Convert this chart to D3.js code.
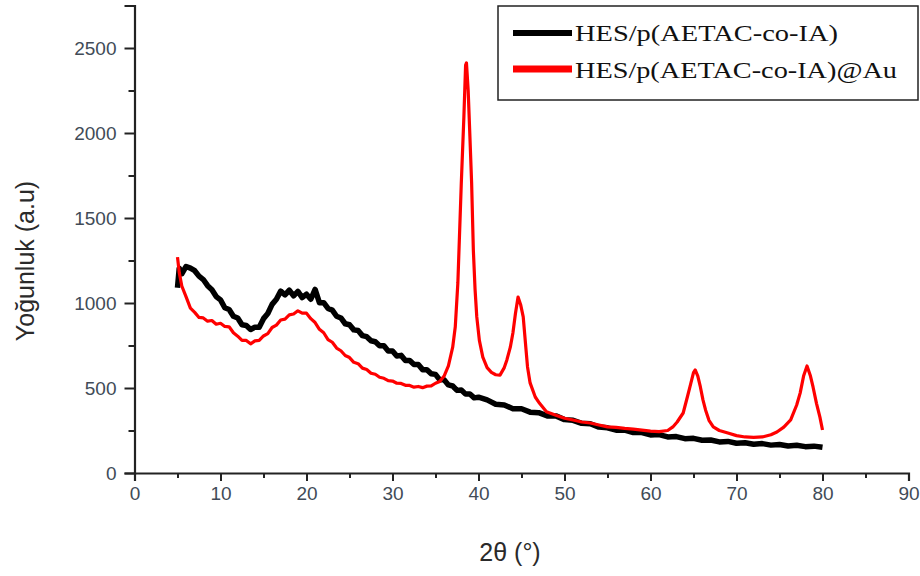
<!DOCTYPE html>
<html>
<head>
<meta charset="utf-8">
<script src="https://cdn.jsdelivr.net/npm/d3@7"></script>
<style>
    body { margin: 0; background: #fff; }
    .tick text { font-family: "Liberation Sans", Arial, sans-serif; font-size: 19px; fill: #414b57; }
</style>
</head>
<body>
<script>
// Series data (2θ in degrees, intensity in a.u.)
var blackAngle = [5.0, 5.2, 5.5, 6.0, 6.5, 7.0, 7.5, 8.0, 8.5, 9.0, 9.5, 10.0, 10.5, 11.0, 11.5, 12.0, 12.5, 13.0, 13.5, 14.0,
    14.5, 15.0, 15.5, 16.0, 16.5, 17.0, 17.5, 18.0, 18.5, 19.0, 19.5, 20.0, 20.5, 21.0, 21.5, 22.0, 22.5, 23.0, 23.5, 24.0,
    24.5, 25.0, 25.5, 26.0, 26.5, 27.0, 27.5, 28.0, 28.5, 29.0, 29.5, 30.0, 30.5, 31.0, 31.5, 32.0, 32.5, 33.0, 33.5, 34.0,
    34.5, 35.0, 35.5, 36.0, 36.5, 37.0, 37.5, 38.0, 38.5, 39.0, 39.5, 40.0, 41, 42, 43, 44, 45, 46, 47, 48,
    49, 50, 51, 52, 53, 54, 55, 56, 57, 58, 59, 60, 61, 62, 63, 64, 65, 66, 67, 68,
    69, 70, 71, 72, 73, 74, 75, 76, 77, 78, 79, 80];
var blackValue = [1090, 1205, 1172, 1215, 1205, 1190, 1158, 1138, 1102, 1078, 1038, 1018, 972, 962, 922, 912, 872, 868, 844, 858,
    858, 908, 938, 992, 1022, 1070, 1048, 1075, 1042, 1068, 1032, 1052, 1022, 1080, 1002, 1002, 968, 958, 922, 912,
    878, 872, 842, 838, 808, 802, 778, 772, 748, 748, 718, 718, 688, 692, 662, 662, 638, 638, 608, 608,
    584, 580, 548, 548, 518, 512, 486, 488, 464, 465, 442, 446, 430, 404, 400, 378, 378, 358, 355, 336,
    336, 314, 310, 292, 290, 270, 266, 252, 252, 238, 238, 224, 226, 212, 214, 202, 204, 193, 194, 183,
    186, 175, 178, 169, 173, 164, 168, 159, 163, 155, 158, 151];

var redAngle = [5.0, 5.2, 5.5, 6.0, 6.5, 7.0, 7.5, 8.0, 8.5, 9.0, 9.5, 10.0, 10.5, 11.0, 11.5, 12.0, 12.5, 13.0, 13.5, 14.0,
    14.5, 15.0, 15.5, 16.0, 16.5, 17.0, 17.5, 18.0, 18.5, 19.0, 19.5, 20.0, 20.5, 21.0, 21.5, 22.0, 22.5, 23.0, 23.5, 24.0,
    24.5, 25.0, 25.5, 26.0, 26.5, 27.0, 27.5, 28.0, 28.5, 29.0, 29.5, 30.0, 30.5, 31.0, 31.5, 32.0, 32.5, 33.0, 33.5, 34.0,
    34.5, 35.0, 35.5, 36.0, 36.5, 37.0, 37.3, 37.6, 38.0, 38.3, 38.5, 38.6, 38.8, 39.0, 39.2, 39.4, 39.6, 39.8, 40.1, 40.5,
    41.0, 41.5, 42.0, 42.5, 43.0, 43.3, 43.7, 44.0, 44.3, 44.6, 44.9, 45.2, 45.5, 45.7, 46.0, 46.6, 47.1, 47.9, 49.0, 50.0,
    51.0, 52.0, 53.0, 54.0, 55.0, 56.0, 57.0, 58.0, 59.0, 60.0, 61.0, 62.0, 62.6, 63.1, 63.8, 64.3, 64.6, 65.0, 65.2, 65.5,
    65.8, 66.1, 66.4, 66.8, 67.3, 68.0, 69.0, 70.0, 71.0, 72.0, 73.0, 74.0, 74.7, 75.5, 76.3, 77.0, 77.4, 77.8, 78.2, 78.6,
    78.9, 79.3, 79.7, 80.0];
var redValue = [1270, 1180, 1100, 1036, 970, 945, 915, 912, 893, 897, 875, 881, 862, 860, 825, 805, 780, 780, 760, 777,
    780, 806, 820, 856, 870, 900, 905, 930, 935, 954, 940, 940, 908, 885, 845, 825, 785, 769, 735, 719,
    691, 679, 651, 643, 617, 609, 587, 581, 563, 557, 543, 541, 528, 527, 516, 515, 505, 509, 502, 511,
    512, 528, 538, 570, 630, 740, 860, 1118, 1706, 2094, 2400, 2412, 2250, 1980, 1706, 1312, 1080, 918, 780, 682,
    620, 592, 578, 576, 620, 665, 740, 824, 940, 1035, 990, 918, 740, 624, 530, 447, 410, 360, 340, 322,
    312, 300, 294, 282, 271, 268, 262, 258, 252, 246, 243, 250, 271, 300, 353, 450, 510, 590, 606, 570,
    506, 430, 371, 310, 271, 250, 235, 220, 212, 210, 212, 225, 241, 270, 312, 400, 470, 570, 630, 570,
    506, 410, 329, 253];

var seriesNames = ["HES/p(AETAC-co-IA)", "HES/p(AETAC-co-IA)@Au"];
var seriesColors = ["#000000", "#ff0000"];
var xTicks = [0, 10, 20, 30, 40, 50, 60, 70, 80, 90];
var yTicks = [0, 500, 1000, 1500, 2000, 2500];

// Page size
var width = 920;
var height = 576;

var svg = d3.select("body").append("svg")
    .attr("width", width)
    .attr("height", height);

// Scales, plot area matched to the picture
var xScale = d3.scaleLinear().domain([0, 90]).range([134.5, 908.5]);
var yScale = d3.scaleLinear().domain([0, 2750]).range([473, 5.5]);

// Curves
function toPoints(angles, values) {
    return angles.map(function (a, i) { return [a, values[i]]; });
}
var line = d3.line()
    .x(function (d) { return xScale(d[0]); })
    .y(function (d) { return yScale(d[1]); });

var series = [toPoints(blackAngle, blackValue), toPoints(redAngle, redValue)];
var widths = [5.5, 3.2];

series.forEach(function (pts, i) {
    svg.append("path")
        .datum(pts)
        .attr("fill", "none")
        .attr("stroke", seriesColors[i])
        .attr("stroke-width", widths[i])
        .attr("stroke-linejoin", "round")
        .attr("d", line);
});

// Axes
var xAxis = svg.append("g")
    .attr("transform", "translate(0," + yScale(0) + ")")
    .call(d3.axisBottom(xScale).tickValues(xTicks).tickSize(8).tickPadding(3).tickFormat(d3.format("d")));

var xMinor = svg.append("g")
    .attr("transform", "translate(0," + yScale(0) + ")")
    .call(d3.axisBottom(xScale).tickValues(d3.range(5, 90, 10)).tickSize(5).tickFormat(""));

var yAxis = svg.append("g")
    .attr("transform", "translate(" + xScale(0) + ",0)")
    .call(d3.axisLeft(yScale).tickValues(yTicks).tickSize(10).tickPadding(8).tickFormat(d3.format("d")));

var yMinor = svg.append("g")
    .attr("transform", "translate(" + xScale(0) + ",0)")
    .call(d3.axisLeft(yScale).tickValues(d3.range(250, 2750, 500)).tickSize(6).tickFormat(""));

[xAxis, xMinor, yAxis, yMinor].forEach(function (g) {
    g.select(".domain").attr("stroke", "#222").attr("stroke-width", 2.2);
    g.selectAll(".tick line").attr("stroke", "#222").attr("stroke-width", 2);
});
xMinor.select(".domain").remove();
yMinor.select(".domain").remove();
xAxis.selectAll(".tick text").attr("dy", "0.85em");

// Axis titles
svg.append("text")
    .attr("x", 510)
    .attr("y", 561)
    .attr("text-anchor", "middle")
    .style("font-family", "'Liberation Sans', Arial, sans-serif")
    .style("font-size", "25px")
    .style("fill", "#2a2a2a")
    .text("2θ (°)");

svg.append("text")
    .attr("transform", "translate(34,261) rotate(-90)")
    .attr("text-anchor", "middle")
    .style("font-family", "'Liberation Sans', Arial, sans-serif")
    .style("font-size", "25px")
    .style("fill", "#2a2a2a")
    .text("Yoğunluk (a.u)");

// Legend
var legend = svg.append("g");
legend.append("rect")
    .attr("x", 498)
    .attr("y", 6)
    .attr("width", 420)
    .attr("height", 94)
    .attr("fill", "#fff")
    .attr("stroke", "#222")
    .attr("stroke-width", 1.5);

var labelLengths = [263, 322];
seriesNames.forEach(function (name, i) {
    var ly = 33 + i * 36;
    legend.append("line")
        .attr("x1", 513).attr("x2", 572)
        .attr("y1", ly).attr("y2", ly)
        .attr("stroke", seriesColors[i])
        .attr("stroke-width", 6 + i);
    legend.append("text")
        .attr("x", 575)
        .attr("y", ly + 8 + i)
        .attr("textLength", labelLengths[i])
        .attr("lengthAdjust", "spacingAndGlyphs")
        .style("font-family", "'Liberation Serif', 'Times New Roman', serif")
        .style("font-size", "24px")
        .style("fill", "#111")
        .text(name);
});
</script>
</body>
</html>
